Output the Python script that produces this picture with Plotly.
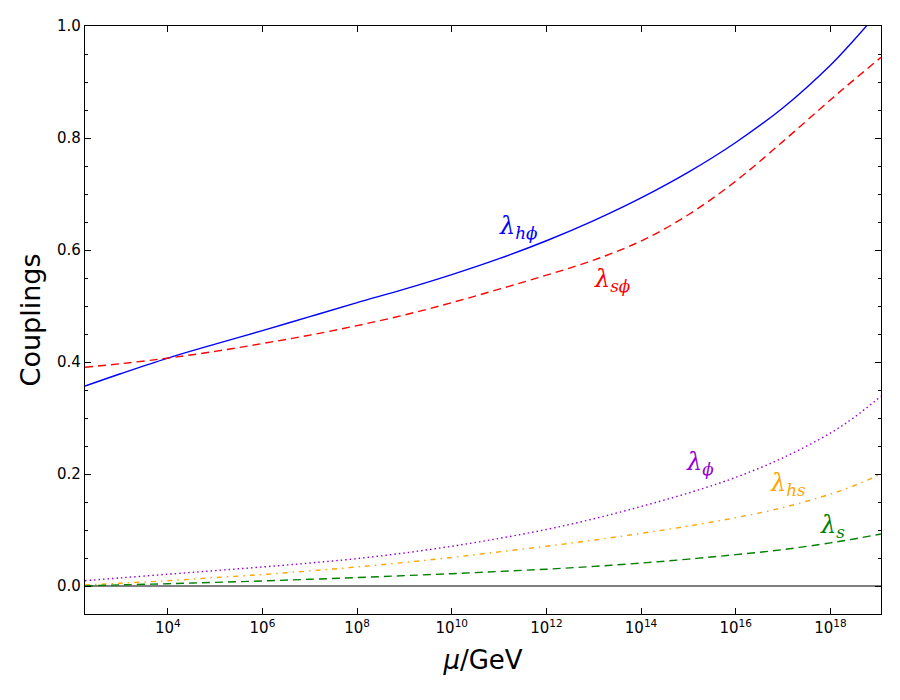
import numpy as np
import plotly.graph_objects as go

# --- data (x as log10(mu/GeV)) ---
LOG_MU = [2.25, 3, 4, 5, 6, 7, 8, 9, 10, 11, 12, 13, 14, 15, 16, 17, 18, 18.5, 19.07]

LAM_H_PHI = [0.357, 0.379, 0.407, 0.432, 0.456, 0.481, 0.506, 0.530, 0.556, 0.5845, 0.6165, 0.6525,
             0.693, 0.739, 0.792, 0.854, 0.930, 0.975, 1.03]
LAM_S_PHI = [0.3905, 0.397, 0.407, 0.419, 0.433, 0.448, 0.465, 0.484, 0.506, 0.530, 0.555, 0.582,
             0.616, 0.663, 0.723, 0.794, 0.868, 0.904, 0.944]
LAM_PHI = [0.0095, 0.0145, 0.021, 0.0275, 0.034, 0.041, 0.049, 0.059, 0.071, 0.085, 0.101, 0.120,
           0.142, 0.166, 0.194, 0.229, 0.273, 0.301, 0.339]
LAM_HS = [0.002, 0.005, 0.0095, 0.015, 0.0205, 0.027, 0.034, 0.042, 0.051, 0.061, 0.071, 0.082,
          0.094, 0.107, 0.122, 0.140, 0.164, 0.179, 0.200]
LAM_S = [0.0, 0.002, 0.004, 0.0065, 0.009, 0.012, 0.015, 0.0185, 0.022, 0.026, 0.030, 0.035,
         0.041, 0.048, 0.056, 0.065, 0.077, 0.084, 0.093]

X_TICKS = [1e4, 1e6, 1e8, 1e10, 1e12, 1e14, 1e16, 1e18]
X_TICK_TEXT = ["10<sup>4</sup>", "10<sup>6</sup>", "10<sup>8</sup>", "10<sup>10</sup>",
               "10<sup>12</sup>", "10<sup>14</sup>", "10<sup>16</sup>", "10<sup>18</sup>"]

# label text, anchor (log10 mu, coupling)
LABELS = [
    ("λ<sub>hϕ</sub>", 11.4, 0.640, "blue"),
    ("λ<sub>sϕ</sub>", 13.4, 0.545, "red"),
    ("λ<sub>ϕ</sub>", 15.25, 0.218, "darkviolet"),
    ("λ<sub>hs</sub>", 17.1, 0.181, "orange"),
    ("λ<sub>s</sub>", 18.05, 0.107, "green"),
]

mu = 10 ** np.array(LOG_MU)
LW = 1.4

fig = go.Figure()
series = [
    (LAM_H_PHI, "blue", "solid"),
    (LAM_S_PHI, "red", "8px,5px"),
    (LAM_PHI, "darkviolet", "1.5px,3px"),
    (LAM_HS, "orange", "5px,5px,1.5px,5px"),
    (LAM_S, "green", "8px,5px"),
]
for vals, col, dash in series:
    fig.add_trace(go.Scatter(
        x=mu, y=vals, mode="lines",
        line=dict(color=col, width=LW, dash=dash, shape="spline", smoothing=1.0),
        showlegend=False, hoverinfo="skip"
    ))

for txt, lx, ly, col in LABELS:
    fig.add_annotation(
        x=lx, y=ly, text="<i>" + txt + "</i>", showarrow=False,
        font=dict(family="DejaVu Serif", size=24, color=col)
    )

axis_common = dict(
    showline=True, linecolor="black", linewidth=1.2, mirror="ticks",
    ticks="inside", tickcolor="black", ticklen=6, tickwidth=1,
    showgrid=False, automargin=False,
    tickfont=dict(family="DejaVu Sans", size=15, color="black"),
)

fig.update_layout(
    width=900, height=700,
    paper_bgcolor="white", plot_bgcolor="white",
    margin=dict(l=85, r=19, t=26, b=86),
    xaxis=dict(
        type="log", range=[2.25, 19.07],
        tickvals=X_TICKS, ticktext=X_TICK_TEXT,
        title=dict(text="<i>μ</i>/GeV", font=dict(family="DejaVu Sans", size=26, color="black"),
                   standoff=14),
        zeroline=False, **axis_common
    ),
    yaxis=dict(
        range=[-0.05, 1.0], tickvals=[0, 0.2, 0.4, 0.6, 0.8, 1.0], tickformat=".1f",
        minor=dict(dtick=0.05, ticks="inside", ticklen=3, tickcolor="black", showgrid=False),
        title=dict(text="Couplings", font=dict(family="DejaVu Sans", size=27, color="black"),
                   standoff=8),
        zeroline=True, zerolinecolor="gray", zerolinewidth=1.5,
        **axis_common
    ),
)

# drop the page's default body margin so the figure sits at the window's corner
fig.write_html("out.html", config={"displayModeBar": False},
               post_script="document.body.style.margin='0px';")
